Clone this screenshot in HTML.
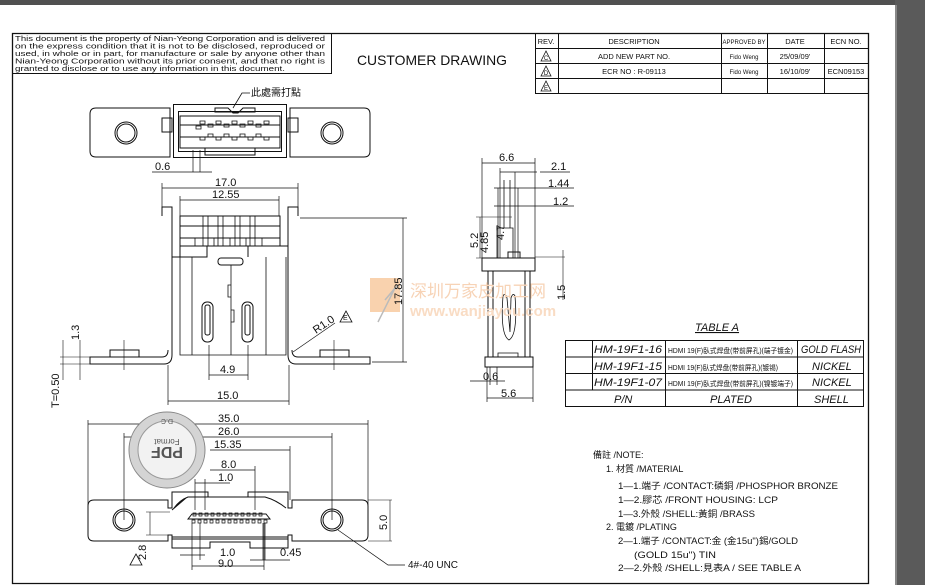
<!DOCTYPE html>
<html><head><meta charset="utf-8"><style>
html,body{margin:0;padding:0;width:925px;height:585px;overflow:hidden;background:#fff}
svg{display:block}
text{font-family:"Liberation Sans","Noto Sans CJK SC",sans-serif}
</style></head><body>
<svg width="925" height="585" viewBox="0 0 925 585" xmlns="http://www.w3.org/2000/svg" fill="#111">
<rect x="0" y="0" width="925" height="5" fill="#505050"/>
<rect x="895" y="0" width="30" height="585" fill="#5a5a5a"/>
<rect x="895" y="5" width="2" height="580" fill="#888"/>
<g fill="none" stroke="#111" stroke-width="1">
<path d="M12.5 33.5 H868.5 V583.5 H12.5 Z" stroke-width="1.3"/>
<rect x="12.5" y="33.5" width="319" height="40"/>
<rect x="535.5" y="33.5" width="333" height="60"/>
<path d="M535 48.5H869M535 63.5H869M535 78.5H869M558.5 33V93M721.5 33V93M767.5 33V93M824.5 33V93"/>
<path d="M541 61 L546 51 L551 61 Z M541 76 L546 66 L551 76 Z M541 91 L546 81 L551 91 Z" stroke-width="0.8"/>

<path d="M96 108 H170 V157 H96 Q90 157 90 151 V114 Q90 108 96 108 Z"/>
<path d="M290 108 H364 Q370 108 370 114 V151 Q370 157 364 157 H290 Z"/>
<circle cx="126" cy="133" r="11"/><circle cx="126" cy="133" r="9"/>
<circle cx="332" cy="133" r="11"/><circle cx="332" cy="133" r="9"/>
<rect x="162" y="118" width="10" height="14"/><rect x="288" y="118" width="10" height="14"/>
<rect x="173.5" y="104.5" width="113" height="53"/>
<rect x="178.5" y="111.5" width="103" height="40"/>
<path d="M215 108 H228 L233 113 H238 L243 108 H255 V112 H215 Z"/>
<rect x="180" y="116" width="100" height="32"/>
<path d="M180 125H280M180 137H280M205 148V155H255V148"/>
<g stroke-width="0.8"><path d="M200 121h5v3h-5zM208 124h5v3h-5zM216 121h5v3h-5zM224 124h5v3h-5zM232 121h5v3h-5zM240 124h5v3h-5zM248 121h5v3h-5zM256 124h5v3h-5zM264 121h5v3h-5zM196 126h5v3h-5z"/>
<path d="M200 137h5v3h-5zM208 134h5v3h-5zM216 137h5v3h-5zM224 134h5v3h-5zM232 137h5v3h-5zM240 134h5v3h-5zM248 137h5v3h-5zM256 134h5v3h-5zM264 137h5v3h-5z"/></g>
<path d="M233 108 L242 93 H250" stroke-width="0.8"/>
<path d="M193 150V172M200 150V172M152 172H212" stroke-width="0.7"/>

<path d="M162 188H298M162 183V216M298 183V216M180 200H279M180 196V216M279 196V216" stroke-width="0.7"/>
<rect x="180" y="216" width="100" height="30"/>
<path d="M180 226H280M180 238H280"/>
<path d="M203 216V246M208 216V246M218 216V246M223 216V246M235 216V246M240 216V246M250 216V246M255 216V246" stroke-width="0.8"/>
<path d="M195 238V246M214 238V246M230 238V246M246 238V246M262 238V246" stroke-width="0.8"/>
<path d="M162 216 V207 H172 V355 Q172 364 164 364 H90 V357 H162 Q168 357 168 350"/>
<path d="M298 216 V207 H288 V355 Q288 364 296 364 H370 V357 H298 Q292 357 292 350"/>
<path d="M172 257H180V246H207V257H172M248 257V246H288V257"/>
<rect x="218" y="258" width="25" height="7" rx="3"/>
<path d="M180 257V355H286V257M192 257V355M266 257V355M231 265V355" stroke-width="0.8"/>
<path d="M231 285h-3v12h3M231 310h3v12h-3" stroke-width="0.8"/>
<rect x="202" y="302" width="11" height="40" rx="5"/><rect x="205" y="305" width="5" height="30" rx="2"/>
<rect x="242" y="302" width="11" height="40" rx="5"/><rect x="245" y="305" width="5" height="30" rx="2"/>
<rect x="110" y="350" width="29" height="7"/><rect x="320" y="350" width="29" height="7"/>
<path d="M124 340V370M334 340V370" stroke-width="0.6"/>
<path d="M300 218H407M372 362H407M403 218V362" stroke-width="0.7"/>
<path d="M209 345V380M248 345V380M209 375H248M168 365V405M289 365V405M168 401H289" stroke-width="0.7"/>
<path d="M60 357H90M60 364H90M63 340V380M80 340V380" stroke-width="0.6"/>
<path d="M293 352 L335 323" stroke-width="0.7"/>
<path d="M340 322 L346 311 L352 322 Z" stroke-width="0.8"/>

<path d="M482 163H535M482 158V258M535 158V258M500 172H537M500 168V258M515 172V258M494 188H574M498 188V258M518 188V258M494 206H574M540 172H570" stroke-width="0.7"/>
<path d="M497 258V228H513V258M504 228V180M510 228V180" stroke-width="0.8"/>
<path d="M476 217H512M476 258H512M480 217V258" stroke-width="0.6"/>
<rect x="482" y="258" width="53" height="13"/>
<rect x="508" y="252" width="12" height="6"/>
<path d="M488 271V357H530V271M493 271V357M525 271V357"/>
<path d="M503 296 Q500 335 509 340 Q518 335 515 296 Q513 292 511 298 L510 332 L507 298 Q505 292 503 296Z" stroke-width="0.8"/>
<rect x="485" y="357" width="48" height="10"/>
<path d="M498 353h20v4h-20z" stroke-width="0.8"/>
<path d="M535 257H565M563 250V300" stroke-width="0.6"/>
<path d="M470 381H505M490 367V385M497 367V385M487 367V402M533 367V402M487 398H533" stroke-width="0.7"/>

<rect x="565.5" y="340.5" width="298" height="66"/>
<path d="M565 357H864M565 373.5H864M565 390H864M592.5 340V390M665.5 340V406M797.5 340V406"/>

<path d="M88 424H368M88 420V505M368 420V505M124 437H332M124 433V520M332 433V520M210 450H290M290 446V500M210 470H255M255 466V510M195 483H230M195 479V510M205 479V510" stroke-width="0.7"/>
<path d="M94 500 H168 V508 H172 V492 H208 V497 H248 V492 H288 V508 H292 V500 H362 Q368 500 368 506 V535 Q368 541 362 541 H292 V535 H288 V548 H250 V542 H210 V548 H172 V535 H168 V541 H94 Q88 541 88 535 V506 Q88 500 94 500 Z"/>
<path d="M174 508 Q180 500 188 497 H265 Q276 500 286 508 M172 510 L186 498"/>
<path d="M172 537H288M172 539H288"/>
<path d="M188 519 L192 514 H266 L270 519 Z"/>
<g stroke-width="0.7"><path d="M193 513h3v3h-3zM199 513h3v3h-3zM205 513h3v3h-3zM211 513h3v3h-3zM217 513h3v3h-3zM223 513h3v3h-3zM229 513h3v3h-3zM235 513h3v3h-3zM241 513h3v3h-3zM247 513h3v3h-3zM253 513h3v3h-3zM259 513h3v3h-3z"/>
<path d="M192 520h3v3h-3zM198 520h3v3h-3zM204 520h3v3h-3zM210 520h3v3h-3zM216 520h3v3h-3zM222 520h3v3h-3zM228 520h3v3h-3zM234 520h3v3h-3zM240 520h3v3h-3zM246 520h3v3h-3zM252 520h3v3h-3zM258 520h3v3h-3zM264 520h3v3h-3z"/></g>
<circle cx="124" cy="520" r="11"/><circle cx="124" cy="520" r="9"/>
<circle cx="332" cy="520" r="11"/><circle cx="332" cy="520" r="9"/>
<path d="M192 523V570M200 523V560M180 555H205M264 523V570M263 523V560M265 523V560M250 560H290M192 566H264" stroke-width="0.7"/>
<path d="M146 512H170M146 535H170M150 512V535M390 500V541M368 500H392M368 541H392" stroke-width="0.6"/>
<path d="M338 530 L388 565 H405" stroke-width="0.7"/>
<path d="M130 565 L136 554 L142 565 Z" stroke-width="0.8"/>
</g>

<circle cx="167" cy="450" r="38" fill="#d4d4d4" stroke="#888" stroke-width="1"/>
<circle cx="167" cy="450" r="29" fill="#f2f2f2" stroke="#999" stroke-width="1"/>
<text x="167" y="457" text-anchor="middle" font-size="16" font-weight="bold" fill="#555" transform="rotate(180 167 452)">PDF</text>
<text x="167" y="441" text-anchor="middle" font-size="8" fill="#555" transform="rotate(180 167 440)">Format</text>
<text x="167" y="425" text-anchor="middle" font-size="7" fill="#555" transform="rotate(180 167 422)">D.C</text>

<rect x="370" y="278" width="30" height="34" fill="#f7c79a" opacity="0.8"/>
<path d="M378 322 L395 288 L385 300 L398 285" stroke="#bbb" stroke-width="1.5" fill="none"/>
<text x="410" y="297" font-size="17" fill="#f7d3b6">深圳万家皮加工网</text>
<text x="410" y="316" font-size="15" font-weight="bold" fill="#f9dcc4">www.wanjiayou.com</text>

<g font-size="7.5">
<text x="15" y="41" textLength="310" lengthAdjust="spacingAndGlyphs">This document is the property of Nian-Yeong Corporation and is delivered</text>
<text x="15" y="48.5" textLength="310" lengthAdjust="spacingAndGlyphs">on  the  express condition that it is not to be disclosed, reproduced or</text>
<text x="15" y="56" textLength="310" lengthAdjust="spacingAndGlyphs">used, in whole or in part, for manufacture or sale by anyone other than</text>
<text x="15" y="63.5" textLength="310" lengthAdjust="spacingAndGlyphs">Nian-Yeong Corporation without  its prior consent, and that  no right  is</text>
<text x="15" y="71" textLength="270" lengthAdjust="spacingAndGlyphs">granted to disclose or to use any information in this  document.</text>
</g>
<text x="357" y="65" font-size="14" textLength="150" lengthAdjust="spacingAndGlyphs">CUSTOMER DRAWING</text>
<g font-size="7.5" text-anchor="middle">
<text x="546" y="44">REV.</text><text x="634" y="44">DESCRIPTION</text><text x="744" y="44" font-size="6">APPROVED BY</text><text x="795" y="44">DATE</text><text x="846" y="44">ECN NO.</text>
<text x="634" y="59">ADD NEW PART NO.</text><text x="744" y="59" font-size="6">Fido Weng</text><text x="795" y="59">25/09/09'</text>
<text x="634" y="74">ECR NO : R-09113</text><text x="744" y="74" font-size="6">Fido Weng</text><text x="795" y="74">16/10/09'</text><text x="846" y="74">ECN09153</text>
<text x="546" y="60" font-size="6">C</text><text x="546" y="75" font-size="6">D</text><text x="546" y="90" font-size="6">E</text>
</g>
<g font-size="11">
<text x="251" y="96" font-size="10">此處需打點</text>
<text x="155" y="170">0.6</text>
<text x="215" y="186">17.0</text><text x="212" y="198">12.55</text>
<text x="220" y="373">4.9</text><text x="217" y="399">15.0</text>
<text x="343" y="320" font-size="7">E</text>
<text x="316" y="334" transform="rotate(-34 316 334)">R1.0</text>
<text x="402" y="305" transform="rotate(-90 402 305)">17.85</text>
<text x="79" y="340" transform="rotate(-90 79 340)">1.3</text>
<text x="59" y="408" transform="rotate(-90 59 408)">T=0.50</text>
<text x="499" y="161">6.6</text><text x="551" y="170">2.1</text><text x="548" y="187">1.44</text><text x="553" y="205">1.2</text>
<text x="478" y="248" transform="rotate(-90 478 248)">5.2</text>
<text x="488" y="253" transform="rotate(-90 488 253)">4.85</text>
<text x="504" y="240" transform="rotate(-90 504 240)">4.7</text>
<text x="565" y="300" transform="rotate(-90 565 300)">1.5</text>
<text x="483" y="380">0.6</text><text x="501" y="397">5.6</text>
<text x="218" y="422">35.0</text><text x="218" y="435">26.0</text><text x="214" y="448">15.35</text><text x="221" y="468">8.0</text><text x="218" y="481">1.0</text>
<text x="220" y="556">1.0</text><text x="218" y="567">9.0</text><text x="280" y="556">0.45</text>
<text x="387" y="530" transform="rotate(-90 387 530)">5.0</text>
<text x="146" y="560" transform="rotate(-90 146 560)">2.8</text>
<text x="408" y="568" font-size="10">4#-40 UNC</text>
</g>
<g font-size="11" font-style="italic">
<text x="695" y="331" text-decoration="underline">TABLE A</text>
<text x="594" y="353" textLength="68" lengthAdjust="spacingAndGlyphs">HM-19F1-16</text><text x="594" y="370" textLength="68" lengthAdjust="spacingAndGlyphs">HM-19F1-15</text><text x="594" y="386" textLength="68" lengthAdjust="spacingAndGlyphs">HM-19F1-07</text>
<text x="801" y="353" textLength="60" lengthAdjust="spacingAndGlyphs">GOLD FLASH</text><text x="812" y="370">NICKEL</text><text x="812" y="386">NICKEL</text>
<text x="614" y="403">P/N</text><text x="710" y="403">PLATED</text><text x="814" y="403">SHELL</text>
</g>
<g font-size="7">
<text x="668" y="353" textLength="125" lengthAdjust="spacingAndGlyphs">HDMI 19(F)臥式焊盘(带前屏孔)(端子镀金)</text>
<text x="668" y="370" textLength="110" lengthAdjust="spacingAndGlyphs">HDMI 19(F)臥式焊盘(带前屏孔)(镀锡)</text>
<text x="668" y="386" textLength="125" lengthAdjust="spacingAndGlyphs">HDMI 19(F)臥式焊盘(带前屏孔)(镍镀端子)</text>
</g>
<g font-size="9">
<text x="593" y="458">備註 /NOTE:</text>
<text x="606" y="472">1. 材質 /MATERIAL</text>
<text x="618" y="489" textLength="220" lengthAdjust="spacingAndGlyphs">1—1.端子 /CONTACT:磷銅 /PHOSPHOR BRONZE</text>
<text x="618" y="503" textLength="160" lengthAdjust="spacingAndGlyphs">1—2.膠芯 /FRONT HOUSING: LCP</text>
<text x="618" y="517" textLength="137" lengthAdjust="spacingAndGlyphs">1—3.外殼 /SHELL:黃銅 /BRASS</text>
<text x="606" y="530">2. 電鍍 /PLATING</text>
<text x="618" y="544" textLength="180" lengthAdjust="spacingAndGlyphs">2—1.端子 /CONTACT:金 (金15u")錫/GOLD</text>
<text x="634" y="558" textLength="82" lengthAdjust="spacingAndGlyphs">(GOLD 15u") TIN</text>
<text x="618" y="571" textLength="183" lengthAdjust="spacingAndGlyphs">2—2.外殼 /SHELL:見表A / SEE TABLE A</text>
</g>
</svg>
</body></html>
